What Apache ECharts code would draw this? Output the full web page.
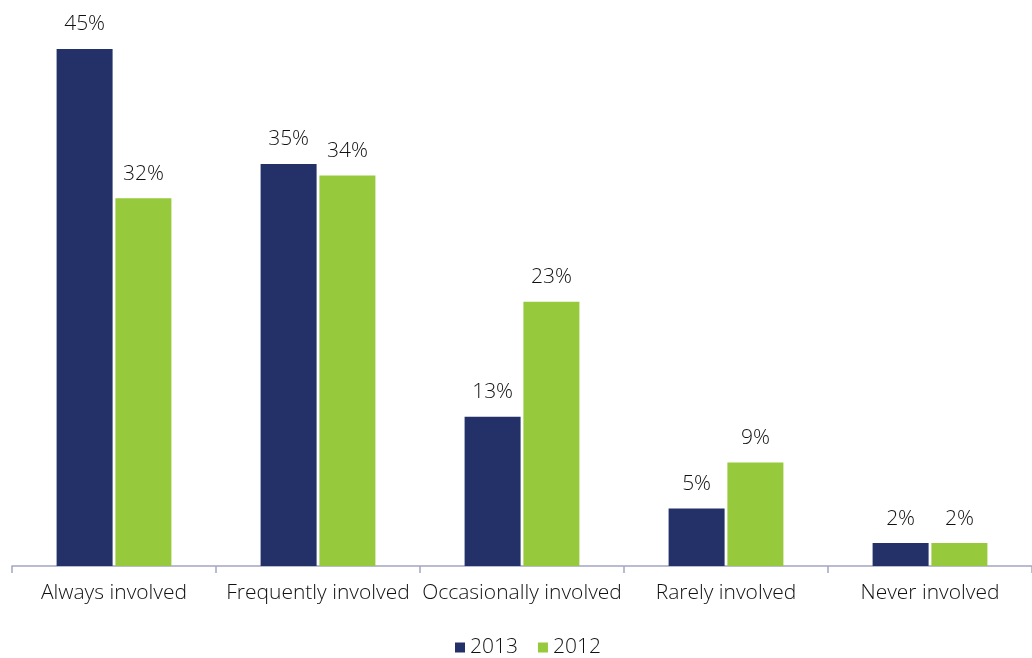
<!DOCTYPE html>
<html><head><meta charset="utf-8">
<script src="https://cdn.jsdelivr.net/npm/echarts@6/dist/echarts.min.js"></script>
<style>html,body{margin:0;padding:0;background:#fff}#c{width:1032px;height:658px}</style>
</head><body><div id="c"></div>
<script>
const categories = ["Always involved","Frequently involved","Occasionally involved","Rarely involved","Never involved"];
const values2013 = [45,35,13,5,2];
const values2012 = [32,34,23,9,2];
const seriesNames = ["2013","2012"];

const chart = echarts.init(document.getElementById('c'), null, {renderer:'canvas'});
const font = '"Open Sans", "Noto Sans", sans-serif';
const lbl = {show:true, position:'top', distance:14, formatter:'{c}%', color:'#111', fontSize:21, fontWeight:300, fontFamily:font};
chart.setOption({
  animation:false,
  grid:{left:12, right:0, top:49, bottom:92, containLabel:false},
  legend:{top:632, left:450, itemWidth:10, itemHeight:10, itemGap:20, itemStyle:{borderWidth:0}, icon:'rect',
    textStyle:{fontSize:21, fontWeight:300, color:'#111', fontFamily:font}, data:seriesNames},
  xAxis:{type:'category', data:categories,
    axisLine:{lineStyle:{color:'#a3a6c2', width:1.5}},
    axisTick:{show:true, length:7, lineStyle:{color:'#a3a6c2', width:1.5}},
    axisLabel:{color:'#111', fontSize:21, fontWeight:300, fontFamily:font, margin:17, interval:0}},
  yAxis:{type:'value', min:0, max:45, show:false, splitLine:{show:false}},
  series:[
    {name:seriesNames[0], type:'bar', data:values2013, barWidth:56, barGap:'5%',
     itemStyle:{color:'#243169'}, label:lbl},
    {name:seriesNames[1], type:'bar', data:values2012, barWidth:56,
     itemStyle:{color:'#97c93c'}, label:lbl}
  ]
});
</script></body></html>
